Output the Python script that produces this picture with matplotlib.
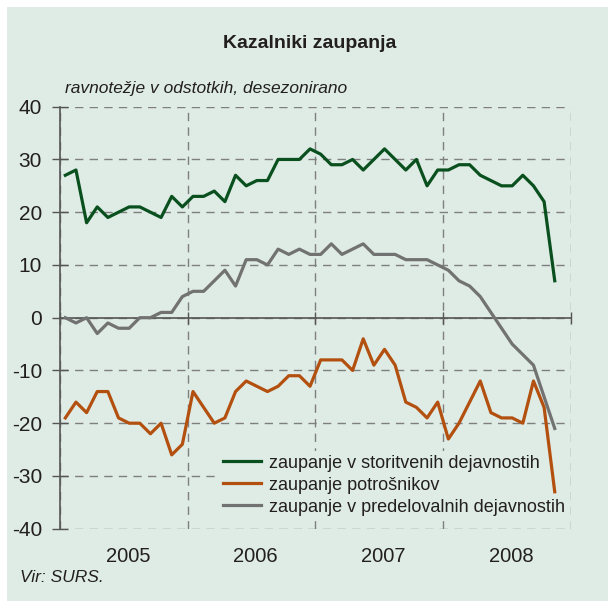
import numpy as np
import matplotlib
matplotlib.use("Agg")
import matplotlib.pyplot as plt
from matplotlib.patches import Rectangle
from matplotlib.transforms import blended_transform_factory

plt.rcParams['font.family'] = ['Liberation Sans Narrow', 'Liberation Sans', 'DejaVu Sans']
plt.rcParams['axes.unicode_minus'] = False

# monthly data, Jan 2005 - Nov 2008
storitve = [27, 28, 18, 21, 19, 20, 21, 21, 20, 19, 23, 21,
            23, 23, 24, 22, 27, 25, 26, 26, 30, 30, 30, 32,
            31, 29, 29, 30, 28, 30, 32, 30, 28, 30, 25, 28,
            28, 29, 29, 27, 26, 25, 25, 27, 25, 22, 7]
potrosniki = [-19, -16, -18, -14, -14, -19, -20, -20, -22, -20, -26, -24,
              -14, -17, -20, -19, -14, -12, -13, -14, -13, -11, -11, -13,
              -8, -8, -8, -10, -4, -9, -6, -9, -16, -17, -19, -16,
              -23, -20, -16, -12, -18, -19, -19, -20, -12, -17, -33]
predelovalne = [0, -1, 0, -3, -1, -2, -2, 0, 0, 1, 1, 4,
                5, 5, 7, 9, 6, 11, 11, 10, 13, 12, 13, 12,
                12, 14, 12, 13, 14, 12, 12, 12, 11, 11, 11, 10,
                9, 7, 6, 4, 1, -2, -5, -7, -9, -15, -21]
years = ['2005', '2006', '2007', '2008']
labels = ['zaupanje v storitvenih dejavnostih',
          'zaupanje potrošnikov',
          'zaupanje v predelovalnih dejavnostih']

bg = '#deece5'
c_green = '#0a501e'
c_orange = '#b4500f'
c_gray = '#727272'
c_grid = '#7f7f7f'

W, H = 608, 601
fig = plt.figure(figsize=(W / 100, H / 100), dpi=100, facecolor='white')
fig.patches.append(Rectangle((7 / W, 0), 1 - 7 / W, 1 - 7 / H,
                             transform=fig.transFigure, facecolor=bg,
                             edgecolor='none', zorder=-10))

ax = fig.add_axes([60 / W, 1 - 528.7 / H, 510.7 / W, 422 / H])
ax.set_facecolor(bg)
ax.patch.set_alpha(0)

x = np.arange(len(storitve)) + 0.5
lw = 2.3
ax.plot(x, storitve, color=c_green, lw=lw, label=labels[0], zorder=3)
ax.plot(x, potrosniki, color=c_orange, lw=lw, label=labels[1], zorder=3)
ax.plot(x, predelovalne, color=c_gray, lw=lw, label=labels[2], zorder=3)

ax.set_xlim(0, 48)
ax.set_ylim(-40, 40)
ax.set_yticks(range(-40, 41, 10))
ax.set_xticks([0, 12, 24, 36, 48])
ax.set_xticklabels([])

ax.grid(True, color=c_grid, linestyle=(0, (6, 4.5)), linewidth=1.0)
ax.set_axisbelow(True)

for s in ['top', 'right']:
    ax.spines[s].set_visible(False)
ax.spines['bottom'].set_position(('data', 0))
ax.spines['bottom'].set_color('#555555')
ax.spines['bottom'].set_linewidth(1.2)
ax.spines['left'].set_color('#555555')
ax.spines['left'].set_linewidth(1.2)
ax.tick_params(axis='y', direction='inout', length=11, width=1, color='#555555',
               labelsize=15, labelcolor='#231f20', pad=7.5)
ax.tick_params(axis='x', direction='inout', length=9, width=1, color='#555555')

trans = blended_transform_factory(ax.transData, ax.transAxes)
for i, yr in enumerate(years):
    ax.text(i * 12 + 6.4, -0.065, yr, transform=trans, ha='center', va='center',
            fontsize=14.5, color='#231f20')

leg = ax.legend(loc='lower right', bbox_to_anchor=(0.995, 0.022), frameon=True,
                fontsize=13, handlelength=2.1, handletextpad=0.4,
                labelspacing=0.28, borderpad=0.2, borderaxespad=0)
leg.set_zorder(2.5)
leg.get_frame().set_facecolor(bg)
leg.get_frame().set_edgecolor('none')
leg.get_frame().set_alpha(1)
for t in leg.get_texts():
    t.set_color('#231f20')

fig.text(310 / W, 1 - 44 / H, 'Kazalniki zaupanja', ha='center', va='center',
         fontsize=14, fontweight='bold', color='#231f20')
fig.text(65 / W, 1 - 88 / H, 'ravnotežje v odstotkih, desezonirano', ha='left',
         va='center', fontsize=12.5, style='italic', color='#231f20')
fig.text(20 / W, 1 - 578 / H, 'Vir: SURS.', ha='left', va='center',
         fontsize=12.5, style='italic', color='#231f20')

fig.savefig('out.png', dpi=100, facecolor=fig.get_facecolor())
